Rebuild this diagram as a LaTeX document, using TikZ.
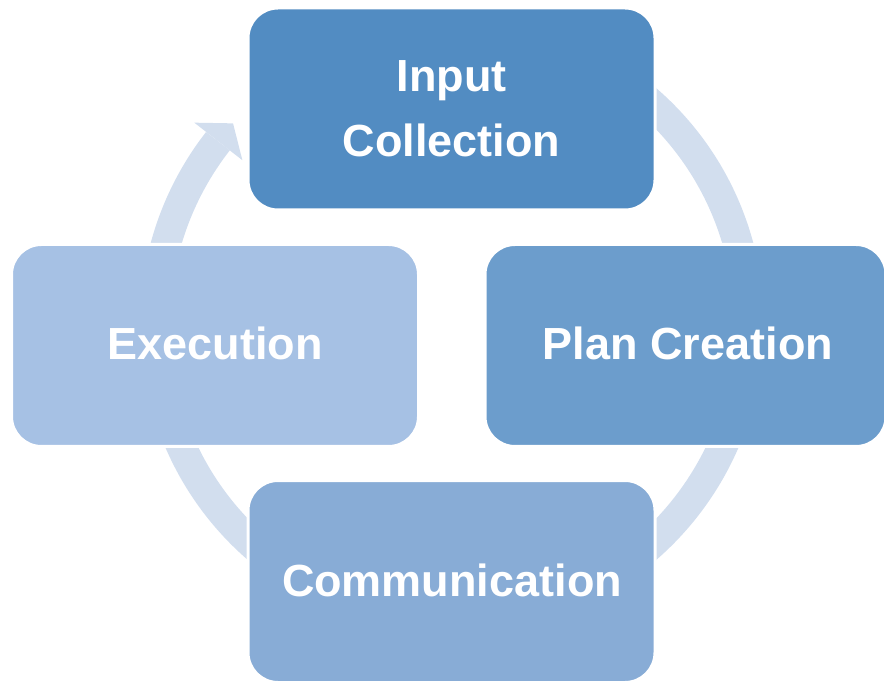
\documentclass[tikz,border=0pt]{standalone}
\usepackage{fontspec}
\setmainfont{Liberation Sans}
\usetikzlibrary{calc}

\definecolor{inputblue}{RGB}{82,140,194}
\definecolor{planblue}{RGB}{108,157,204}
\definecolor{execblue}{RGB}{166,193,228}
\definecolor{commblue}{RGB}{136,172,214}
\definecolor{ringblue}{RGB}{210,222,238}

\begin{document}
\begin{tikzpicture}[x=1pt,y=1pt,
  stagebox/.style={rounded corners=30pt, draw=white, line width=3pt,
    minimum width=407pt, minimum height=202pt, inner sep=0pt},
  stagetext/.style={text=white, font=\bfseries\fontsize{45}{54}\selectfont,
    anchor=base, inner sep=0pt},
  ringband/.style={draw=ringblue, line width=30pt}]
\useasboundingbox (0,0) rectangle (884,681);

% cycle band behind the four stages, ending in an arrow head at the top left
\coordinate (hub) at (452,357);
\draw[ringband] ($(hub)+(100:297)$) arc[start angle=100, end angle=-218, radius=297];
\fill[ringblue] ($(hub)+(142:327)$) -- ($(hub)+(137.5:297)$) -- ($(hub)+(142:266)$) -- cycle;

% the four stages
\node[stagebox, fill=inputblue] (input) at (451.5,572) {};
\node[stagebox, fill=planblue, minimum width=401pt] (plan) at (685.5,335.5) {};
\node[stagebox, fill=execblue] (exec) at (215,335.5) {};
\node[stagebox, fill=commblue] (comm) at (451.5,99.5) {};

% stage labels
\node[stagetext] (inputA) at (451.5,589) {Input};
\node[stagetext] (inputB) at (451.5,524) {Collection};
\node[stagetext] (planT) at (688,321) {Plan Creation};
\node[stagetext] (execT) at (215,321) {Execution};
\node[stagetext] (commT) at (452,85) {Communication};
\end{tikzpicture}
\end{document}
